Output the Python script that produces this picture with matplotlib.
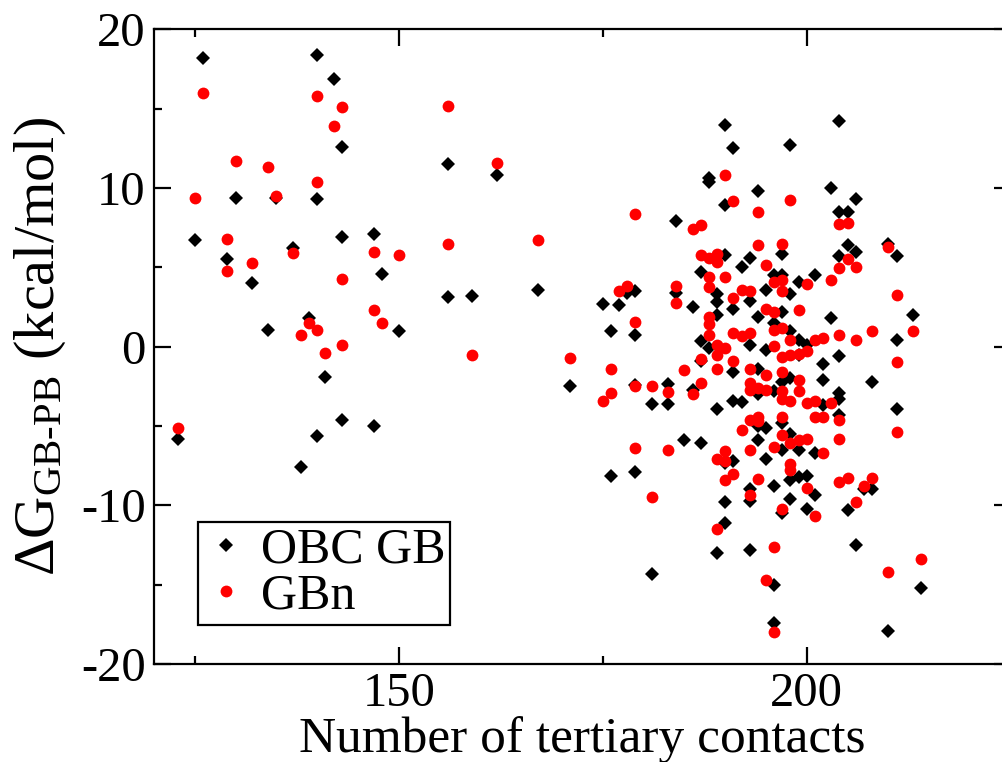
import numpy as np
import matplotlib
matplotlib.use('Agg')
import matplotlib.pyplot as plt
from matplotlib.ticker import MultipleLocator

# OBC GB (black diamonds): number of tertiary contacts, dG_GB-PB (kcal/mol)
obc_x = [123, 125, 126, 129, 130, 132, 134, 135, 137, 138, 139, 140, 140, 140, 141,
         142, 143, 143, 143, 147, 147, 148, 150, 156, 156, 159, 162, 167, 171, 175,
         176, 177, 176, 178, 179, 179, 179, 179, 181, 181, 183, 183, 184, 184, 185,
         186, 186, 187, 187, 187, 187,
         188, 188, 188, 189, 189, 189, 189, 189,
         190, 190, 190, 190, 190, 190,
         191, 191, 191, 191, 191,
         192, 192,
         193, 193, 193, 193, 193, 193,
         194, 194, 194, 194, 194, 194,
         195, 195, 195, 195,
         196, 196, 196, 196, 196, 196,
         198, 197, 197, 197, 197, 197, 197, 197,
         198, 198, 198, 198, 198, 198,
         199, 199, 199, 199, 199,
         200, 200, 200,
         201, 201, 201,
         202, 202, 202,
         203, 203,
         204, 204, 204, 204, 204, 204, 204,
         205, 205, 205,
         206, 206, 206,
         207, 208, 208,
         210, 210,
         211, 211, 211,
         213, 214]
obc_y = [-5.8, 6.7, 18.2, 5.5, 9.4, 4.0, 1.05, 9.35, 6.2, -7.6, 1.8, 18.4, 9.3, -5.6, -1.9,
         16.9, 12.6, 6.9, -4.6, 7.1, -5.0, 4.6, 1.0, 11.5, 3.15, 3.2, 10.8, 3.6, -2.5, 2.7,
         1.0, 2.6, -8.15, 3.4, 3.5, 0.75, -2.4, -7.9, -3.6, -14.3, -2.35, -3.6, 7.9, 3.4, -5.9,
         2.5, -2.7, 4.7, 0.35, -6.1, -0.9,
         10.65, 10.35, -0.1, 3.3, 2.8, 2.0, -3.9, -13.0,
         14.0, 8.9, 5.8, -7.35, -9.8, -11.1,
         12.5, 2.4, -1.6, -3.4, -7.2,
         5.0, -3.5,
         5.6, 2.85, 0.1, -9.0, -9.7, -12.8,
         9.8, 1.9, -1.4, -3.0, -5.0, -5.85,
         3.6, -0.2, -5.1, -7.1,
         4.5, 1.5, -2.8, -8.8, -15.0, -17.4,
         12.7, 5.85, 4.5, 2.2, -2.2, -4.8, -6.5, -10.5,
         3.35, 1.0, -2.0, -5.5, -8.4, -9.6,
         4.1, 0.4, -0.5, -6.5, -8.2,
         0.1, -8.15, -10.25,
         4.5, -6.7, -9.35,
         -1.1, -2.1, -3.7,
         10.0, 1.8,
         14.2, 8.5, 5.7, -0.6, -2.9, -3.3, -4.3,
         8.5, 6.4, -10.3,
         9.3, 6.0, -12.5,
         -9.0, -2.2, -9.0,
         6.45, -17.9,
         5.7, 0.45, -3.9,
         2.0, -15.2]

# GBn (red circles)
gbn_x = [123, 125, 126, 129, 129, 130, 132, 134, 135, 137, 138, 139, 140, 140, 140,
         141, 142, 143, 143, 143, 147, 147, 148, 150, 156, 156, 159, 162, 167, 171,
         175, 176, 176, 177, 178, 179, 179, 179, 179, 181, 181, 183, 183, 184, 184,
         185, 186, 186, 187, 187, 187, 187,
         188, 188, 188, 188, 188, 188,
         189, 189, 189, 189, 189, 189, 189,
         190, 190, 190, 190, 190, 190,
         191, 191, 191, 191, 191,
         192, 192, 192,
         193, 193, 193, 193, 193, 193, 193, 193,
         194, 194, 194, 194, 194, 194,
         195, 195, 195, 195, 195,
         196, 196, 196, 196, 196, 196, 196,
         197, 197, 197, 197, 197, 197, 197, 197, 197, 197, 197,
         198, 198, 198, 198, 198, 198, 198,
         199, 199, 199, 199, 199,
         200, 200, 200, 200, 200,
         201, 201, 201, 201,
         202, 202, 202,
         203, 203,
         204, 204, 204, 204, 204, 204,
         205, 205, 205,
         206, 206, 206,
         207, 208, 208,
         210, 210,
         211, 211, 211,
         213, 214]
gbn_y = [-5.1, 9.4, 16.0, 6.8, 4.8, 11.7, 5.3, 11.3, 9.5, 5.9, 0.75, 1.5, 15.8, 10.4, 1.05,
         -0.4, 13.9, 15.1, 4.25, 0.1, 6.0, 2.3, 1.5, 5.8, 15.2, 6.5, -0.5, 11.6, 6.7, -0.7,
         -3.4, -1.4, -2.9, 3.5, 3.85, 8.35, 1.55, -2.45, -6.4, -2.45, -9.5, -2.85, -6.5, 3.85, 2.75,
         -1.5, 7.4, -3.0, 7.7, 5.8, -0.8, -2.3,
         5.6, 4.4, 3.75, 1.9, 1.4, 0.75,
         5.85, 5.35, 0.1, -0.5, -1.4, -7.1, -11.5,
         10.8, 4.4, -0.1, -6.6, -7.2, -8.4,
         9.2, 3.05, 0.85, -0.9, -8.0,
         3.6, 0.65, -5.25,
         3.5, 0.85, -1.4, -2.3, -2.7, -4.6, -6.5, -9.35,
         8.5, 6.4, -2.6, -4.4, -4.7, -8.35,
         5.15, 2.4, -1.8, -2.7, -14.7,
         4.1, 2.2, 1.05, 0.05, -6.35, -12.6, -18.0,
         6.45, 4.2, 3.5, 1.15, -0.65, -1.6, -2.8, -3.3, -4.45, -5.55, -10.2,
         9.25, 0.4, -0.55, -3.45, -6.1, -7.4, -7.8,
         2.3, -0.45, -2.1, -2.8, -5.9,
         3.95, -0.3, -3.55, -5.8, -8.9,
         0.45, -3.4, -4.45, -10.7,
         0.55, -4.45, -6.7,
         4.2, -3.55,
         7.75, 4.95, 0.75, -4.6, -5.8, -8.5,
         7.8, 5.5, -8.25,
         5.0, 0.4, -9.8,
         -8.8, 1.0, -8.25,
         6.3, -14.2,
         3.25, -0.95, -5.35,
         1.0, -13.4]

plt.rcParams.update({
    'font.family': 'Liberation Serif',
    'font.size': 35,
    'mathtext.fontset': 'custom',
    'mathtext.rm': 'Liberation Serif',
    'mathtext.it': 'Liberation Serif:italic',
    'axes.unicode_minus': False,
})

fig = plt.figure(figsize=(10.03, 7.62), dpi=100)
# right spine falls just outside the picture, as in the original
ax = fig.add_axes([0.15354, 0.12861, 0.85424, 0.83281])

ax.plot(obc_x, obc_y, 'D', color='black', markersize=7.0, markeredgewidth=0, label='OBC GB')
ax.plot(gbn_x, gbn_y, 'o', color='red', markersize=8.5, markeredgewidth=0, label='GBn')

ax.set_xlim(120, 225)
ax.set_ylim(-20, 20)
ax.xaxis.set_major_locator(MultipleLocator(50))
ax.xaxis.set_minor_locator(MultipleLocator(25))
ax.yaxis.set_major_locator(MultipleLocator(10))
ax.yaxis.set_minor_locator(MultipleLocator(5))
ax.tick_params(which='both', direction='in', top=True, right=True, width=1.6)
ax.tick_params(which='major', length=12, pad=6)
ax.tick_params(which='minor', length=6)
for spine in ax.spines.values():
    spine.set_linewidth(1.6)

ax.set_xlabel('Number of tertiary contacts', fontsize=37, labelpad=0)
ax.set_ylabel(r'$\Delta$G$_{\mathrm{GB\text{-}PB}}$ (kcal/mol)', fontsize=42, labelpad=9)

leg = ax.legend(loc='lower left', bbox_to_anchor=(0.0514, 0.0615), borderaxespad=0,
                fancybox=False, edgecolor='black', framealpha=1, fontsize=36,
                handlelength=0.9, handletextpad=0.25, borderpad=0.1, labelspacing=0.0)
leg.get_frame().set_linewidth(1.6)

fig.savefig('out.png', dpi=100)
